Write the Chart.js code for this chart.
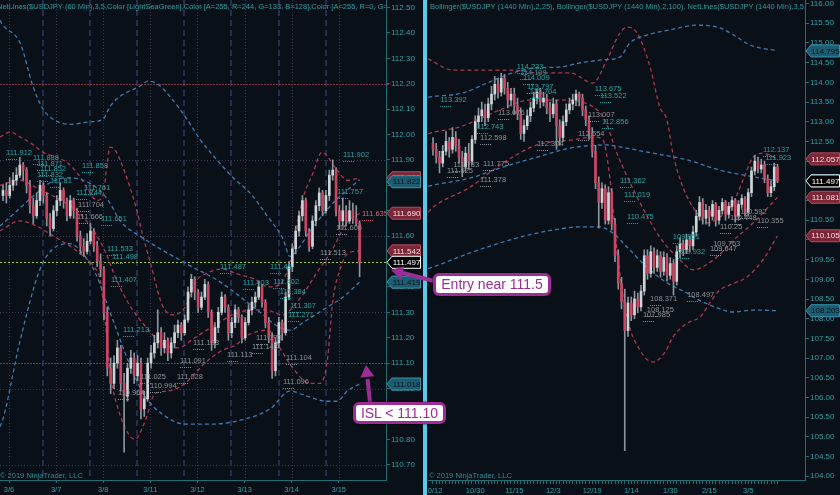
<!DOCTYPE html>
<html>
<head>
<meta charset="utf-8">
<script src="https://cdn.jsdelivr.net/npm/chart.js@4.4.1/dist/chart.umd.min.js"></script>
<style>
  html, body { margin:0; padding:0; background:#0a1018; width:840px; height:495px; overflow:hidden; }
  body { position:relative; font-family:"Liberation Sans", Arial, sans-serif; }
  #lw { position:absolute; left:0; top:0; width:422px; height:495px; }
  #rw { position:absolute; left:428px; top:0; width:412px; height:495px; }
  #sep { position:absolute; left:423px; top:0; width:4px; height:495px; background:#5cc8ec; }
  .callout { position:absolute; box-sizing:border-box; background:#fff; border:3px solid #9b2d95;
             border-radius:6px; color:#9b2d95; font:14px "Liberation Sans", Arial, sans-serif;
             text-align:center; white-space:nowrap; box-shadow:0 0 2px #000; }
  #entry { left:433px; top:273px; width:118px; height:23px; line-height:17px; }
  #isl { left:353px; top:402px; width:93px; height:22px; line-height:16px; }
  svg { position:absolute; left:0; top:0; }
</style>
</head>
<body>
<div id="lw"><canvas id="left" width="422" height="495"></canvas></div>
<div id="sep"></div>
<div id="rw"><canvas id="right" width="412" height="495"></canvas></div>
<svg width="840" height="495">
  <line x1="434" y1="281" x2="401" y2="272.5" stroke="#9b2d95" stroke-width="4"/>
  <polygon points="391,270 404.3,266.2 400.9,279.8" fill="#9b2d95"/>
  <line x1="370" y1="403" x2="367.6" y2="379" stroke="#9b2d95" stroke-width="4"/>
  <polygon points="366,365 374.3,376.2 360.3,377.6" fill="#9b2d95"/>
</svg>
<div class="callout" id="entry">Entry near 111.5</div>
<div class="callout" id="isl">ISL &lt; 111.10</div>

<script>
// ---------- USD/JPY 60-minute bars (left panel) ----------
const leftDays   = ['3/6','3/7','3/8','3/11','3/12','3/13','3/14','3/15'];
const leftDayIdx = [1.8, 15.8, 29.8, 43.8, 57.8, 71.8, 85.8, 99.8];
const leftSessIdx = [11.9, 25.9, 39.9, 53.9, 67.9, 81.9, 95.9];
const leftYTicks = [110.70,110.80,110.90,111.00,111.10,111.20,111.30,111.40,111.50,111.60,
                    111.70,111.80,111.90,112.00,112.10,112.20,112.30,112.40,112.50];
const leftGridLevels = [112.50, 111.90, 111.60, 111.30, 111.00, 110.70];
const leftRedLevels  = [112.20, 111.10];

const leftOpen = [111.76,111.78,111.76,111.80,111.82,111.84,111.88,111.86,111.80,111.72,
  111.68,111.74,111.80,111.76,111.67,111.63,111.70,111.74,111.78,111.74,
  111.68,111.74,111.70,111.60,111.56,111.54,111.58,111.62,111.56,111.50,
  111.47,111.30,111.08,111.02,111.10,111.16,111.02,110.97,111.08,111.12,
  111.05,111.10,110.92,110.96,111.10,111.14,111.18,111.22,111.16,111.19,
  111.14,111.18,111.22,111.25,111.22,111.27,111.38,111.43,111.38,111.32,
  111.36,111.41,111.30,111.18,111.24,111.30,111.36,111.32,111.22,111.26,
  111.31,111.28,111.20,111.26,111.31,111.34,111.36,111.40,111.34,111.26,
  111.20,111.07,111.18,111.26,111.22,111.36,111.48,111.55,111.62,111.68,
  111.74,111.62,111.56,111.66,111.72,111.77,111.70,111.76,111.84,111.86,
  111.70,111.66,111.70,111.66,111.70,111.67,111.65];
const leftHigh = [111.80,111.81,111.83,111.85,111.87,111.91,111.89,111.87,111.82,111.75,
  111.77,111.82,111.81,111.77,111.69,111.72,111.76,111.81,111.79,111.75,
  111.76,111.75,111.71,111.62,111.59,111.61,111.65,111.63,111.58,111.53,
  111.48,111.32,111.12,111.13,111.19,111.17,111.06,111.10,111.15,111.14,
  111.13,111.12,110.99,111.12,111.17,111.21,111.31,111.24,111.22,111.20,
  111.20,111.25,111.27,111.26,111.29,111.40,111.45,111.44,111.39,111.38,
  111.43,111.42,111.31,111.26,111.32,111.38,111.37,111.33,111.28,111.33,
  111.32,111.29,111.28,111.33,111.36,111.38,111.42,111.41,111.35,111.28,
  111.22,111.20,111.28,111.27,111.38,111.50,111.57,111.64,111.70,111.76,
  111.75,111.63,111.68,111.74,111.79,111.78,111.78,111.86,111.90,111.87,
  111.72,111.75,111.72,111.74,111.73,111.72,111.66];
const leftLow = [111.74,111.73,111.75,111.78,111.80,111.83,111.82,111.77,111.69,111.65,
  111.67,111.72,111.73,111.64,111.60,111.62,111.68,111.72,111.71,111.66,
  111.67,111.67,111.58,111.53,111.52,111.53,111.57,111.54,111.48,111.44,
  111.27,111.05,110.98,111.00,111.08,110.99,110.75,110.95,111.06,111.02,
  111.03,110.88,110.89,110.95,111.08,111.12,111.16,111.13,111.14,111.11,
  111.12,111.16,111.20,111.19,111.21,111.26,111.36,111.35,111.30,111.31,
  111.35,111.28,111.15,111.16,111.22,111.29,111.30,111.19,111.20,111.24,
  111.26,111.18,111.19,111.25,111.29,111.32,111.35,111.32,111.24,111.18,
  111.04,111.05,111.16,111.19,111.21,111.35,111.46,111.53,111.60,111.66,
  111.60,111.54,111.55,111.64,111.70,111.68,111.69,111.74,111.82,111.68,
  111.63,111.64,111.64,111.65,111.65,111.64,111.44];
const leftClose = [111.78,111.76,111.80,111.82,111.84,111.88,111.86,111.80,111.72,111.68,
  111.74,111.80,111.76,111.67,111.63,111.70,111.74,111.78,111.74,111.68,
  111.74,111.70,111.60,111.56,111.54,111.58,111.62,111.56,111.50,111.47,
  111.30,111.08,111.02,111.10,111.16,111.02,110.97,111.08,111.12,111.05,
  111.10,110.92,110.96,111.10,111.14,111.18,111.22,111.16,111.19,111.14,
  111.18,111.22,111.25,111.22,111.27,111.38,111.43,111.38,111.32,111.36,
  111.41,111.30,111.18,111.24,111.30,111.36,111.32,111.22,111.26,111.31,
  111.28,111.20,111.26,111.31,111.34,111.36,111.40,111.34,111.26,111.20,
  111.07,111.18,111.26,111.22,111.36,111.48,111.55,111.62,111.68,111.74,
  111.62,111.56,111.66,111.72,111.77,111.70,111.76,111.84,111.86,111.70,
  111.66,111.70,111.66,111.70,111.67,111.65,111.497];

// Bollinger(2,25) and Bollinger(2,100) on the hourly bars: [bar, price]
const leftRedUp = [[-0.9,111.99],[2.1,112.01],[5.1,111.99],[8.9,111.96],[11.9,111.93],[16.1,111.91],
  [19,111.89],[22,111.85],[25,111.79],[27.9,111.74],[29.7,111.76],[30.9,111.88],[31.8,111.95],
  [33.3,111.94],[34.8,111.90],[37.8,111.79],[39.8,111.70],[41.6,111.60],[43.7,111.50],[47.3,111.33],
  [50.2,111.29],[54.1,111.32],[57.1,111.42],[60,111.45],[65.1,111.47],[69.9,111.45],[74.9,111.43],
  [78.8,111.40],[82.3,111.41],[85.3,111.50],[89.2,111.75],[92.2,111.85],[94.8,111.93],[99.3,111.86],
  [102.3,111.82],[106,111.830]];
const leftRedMid = [[-0.9,111.80],[5,111.82],[10,111.79],[16,111.75],[22,111.70],[27,111.62],[30,111.55],
  [34,111.42],[38,111.32],[42,111.25],[47,111.18],[52,111.16],[57,111.20],[63,111.25],[70,111.30],
  [78,111.31],[83,111.29],[88,111.35],[93,111.45],[98,111.55],[102,111.65],[106,111.690]];
const leftRedLow = [[-0.9,111.62],[5,111.66],[10,111.64],[15,111.60],[20,111.56],[24,111.52],[27,111.48],
  [29,111.42],[30.5,111.25],[32,111.05],[34,110.93],[36.9,110.83],[39.2,110.80],[42.2,110.87],
  [45.2,110.98],[49,110.99],[54.1,111.02],[57.1,111.06],[60,111.10],[65.1,111.15],[69,111.17],
  [72.8,111.21],[78.8,111.23],[82.3,111.16],[86.2,111.08],[91.3,111.02],[94.2,111.02],[96.3,111.10],
  [98.1,111.35],[100.2,111.47],[102.3,111.53],[106,111.542]];
const leftBlueUp = [[-0.9,112.45],[0,112.43],[5.1,112.36],[8.9,112.19],[11.9,112.10],[14.9,112.06],
  [19.9,112.04],[25.9,112.05],[29.7,112.06],[31.8,112.11],[34.8,112.15],[40.7,112.19],[43.1,112.21],
  [45.8,112.20],[49.6,112.15],[54.7,112.06],[58.6,111.98],[63.6,111.90],[68.4,111.83],[73.4,111.77],
  [78.5,111.68],[83.2,111.59],[85.3,111.52],[88.3,111.56],[91.3,111.62],[98.1,111.73],[106,111.822]];
const leftBlueMid = [[-0.9,111.64],[0,111.65],[10.1,111.77],[14,111.81],[19,111.83],[23.8,111.82],
  [28.8,111.78],[31.8,111.73],[34.8,111.66],[40.7,111.60],[54.7,111.49],[64.5,111.42],[76.4,111.30],
  [82.3,111.24],[85.3,111.23],[89.2,111.26],[96.3,111.32],[101.1,111.36],[106,111.419]];
const leftBlueLow = [[-0.9,110.85],[0,110.88],[5.1,111.19],[11,111.47],[14.9,111.55],[19.9,111.57],
  [24.4,111.52],[27.3,111.46],[32.4,111.28],[37.2,111.11],[42.2,110.97],[47.3,110.90],[54.1,110.86],
  [62.1,110.86],[71.9,110.88],[79.4,110.92],[85.3,110.99],[90.4,110.97],[96.3,110.95],[99.3,110.95],
  [102.3,110.99],[106,111.018]];

// NetLines swing levels: [text, bar, price, tone]
const leftNotes = [
  ['111.912',0.9,111.927,'t'],['111.888',8.9,111.907,'t'],['111.871',10.1,111.884,'t'],
  ['111.852',11,111.864,'t'],['111.832',10.1,111.841,'t'],['111.81',14,111.817,'t'],
  ['111.858',23.5,111.876,'t'],['111.761',24.1,111.789,'t'],['111.744',21.7,111.770,'t'],
  ['111.704',22.3,111.722,'g'],['111.666',22,111.677,'g'],['111.651',29.1,111.667,'t'],
  ['111.533',30.9,111.549,'t'],['111.498',32.4,111.518,'t'],['111.407',32.1,111.427,'t'],
  ['111.213',35.7,111.230,'t'],['111.487',64.5,111.478,'t'],['111.403',71.3,111.415,'t'],
  ['111.49',79.4,111.478,'t'],['111.402',80.3,111.419,'t'],['111.384',82.3,111.380,'t'],
  ['111.307',85.3,111.325,'t'],['111.271',84.7,111.290,'t'],['111.902',101.1,111.919,'t'],
  ['111.757',99.3,111.774,'t'],['111.635',106.7,111.687,'p'],['111.606',99,111.632,'g'],
  ['111.513',94.2,111.533,'g'],['111.104',84.1,111.120,'g'],['111.096',83.2,111.025,'g'],
  ['111.091',52.6,111.108,'g'],['111.028',51.7,111.045,'g'],['110.994',43.7,111.010,'g'],
  ['111.025',40.7,111.045,'g'],['110.964',34.2,110.982,'g'],['111.193',56.5,111.180,'g'],
  ['111.143',74,111.163,'g'],['111.173',75.2,111.198,'g'],['111.113',66.6,111.132,'g']];

// ---------- USD/JPY daily bars (right panel) ----------
const rightDates   = ['10/12','10/30','11/15','12/3','12/19','1/14','1/30','2/15','3/5'];
const rightDateIdx = [0, 13, 25, 37, 49, 61, 73, 85, 97];
const rightYTicks = [104.00,104.50,105.00,105.50,106.00,106.50,107.00,107.50,108.00,108.50,109.00,
  109.50,110.00,110.50,111.00,111.50,112.00,112.50,113.00,113.50,114.00,114.50,115.00,115.50,116.00];

const rightOpen = [112.45,112.30,112.10,111.95,112.25,112.50,112.30,112.60,112.40,112.10,
  111.85,112.20,112.00,112.55,113.00,113.15,113.30,113.10,113.45,113.70,
  113.95,113.75,114.10,113.85,113.55,113.70,113.40,113.20,112.70,112.90,
  113.15,113.35,113.60,113.75,113.50,113.60,113.35,113.20,113.45,112.90,
  112.60,113.00,113.30,113.45,113.55,113.70,113.60,113.30,113.05,112.70,
  112.25,111.45,110.95,111.30,110.50,111.20,110.40,109.60,108.90,108.45,
  107.70,108.40,108.10,108.50,108.30,108.70,109.60,109.15,109.70,109.30,
  109.60,109.20,109.55,109.10,109.40,108.95,109.70,109.90,109.75,110.00,
  109.85,110.20,110.60,110.95,110.55,110.75,110.60,110.90,110.50,110.75,
  110.95,110.65,110.85,111.00,110.60,110.90,111.05,110.70,111.20,111.75,
  112.00,111.80,111.90,111.55,111.20,111.35,111.85];
const rightHigh = [112.60,112.45,112.25,112.40,112.75,112.60,112.85,112.75,112.55,112.25,
  112.35,112.45,112.65,113.15,113.35,113.50,113.45,113.60,113.90,114.15,
  114.10,114.23,114.20,114.00,113.85,113.85,113.60,113.35,113.05,113.30,
  113.50,113.75,113.82,113.85,113.75,113.70,113.50,113.60,113.55,113.05,
  113.15,113.45,113.60,113.70,113.80,113.75,113.70,113.40,113.15,112.85,
  112.40,111.60,111.45,111.40,111.35,111.30,110.55,109.75,109.05,108.75,
  108.55,108.55,108.70,108.65,108.85,109.75,109.75,109.85,109.80,109.75,
  109.70,109.70,109.65,109.55,109.50,109.85,110.05,110.00,110.15,110.10,
  110.35,110.75,111.10,111.05,110.90,110.85,111.00,110.95,110.85,111.05,
  111.00,110.95,111.10,111.05,111.00,111.15,111.10,111.30,111.85,112.14,
  112.10,112.05,112.00,111.65,111.50,111.95,111.92];
const rightLow = [112.15,111.95,111.70,111.85,112.15,112.10,112.20,112.25,111.95,111.60,
  111.75,111.80,111.90,112.45,112.85,113.00,112.90,113.00,113.30,113.55,
  113.60,113.65,113.70,113.35,113.40,113.20,113.05,112.55,112.50,112.80,
  113.00,113.25,113.45,113.35,113.40,113.20,113.00,113.10,112.30,112.40,
  112.50,112.90,113.20,113.30,113.40,113.40,113.15,112.90,112.55,112.10,
  111.30,110.30,110.80,110.40,110.40,110.25,109.45,108.75,108.25,104.65,
  107.55,107.95,108.00,108.15,108.20,108.60,109.00,109.05,109.15,109.20,
  109.05,109.10,108.95,109.00,108.60,108.85,109.55,109.60,109.65,109.70,
  109.75,110.10,110.50,110.40,110.40,110.35,110.50,110.35,110.40,110.65,
  110.50,110.55,110.75,110.45,110.50,110.80,110.60,110.60,111.10,111.65,
  111.70,111.70,111.45,111.10,111.10,111.25,111.45];
const rightClose = [112.30,112.10,111.95,112.25,112.50,112.30,112.60,112.40,112.10,111.85,
  112.20,112.00,112.55,113.00,113.15,113.30,113.10,113.45,113.70,113.95,
  113.75,114.10,113.85,113.55,113.70,113.40,113.20,112.70,112.90,113.15,
  113.35,113.60,113.75,113.50,113.60,113.35,113.20,113.45,112.90,112.60,
  113.00,113.30,113.45,113.55,113.70,113.60,113.30,113.05,112.70,112.25,
  111.45,110.95,111.30,110.50,111.20,110.40,109.60,108.90,108.45,107.70,
  108.40,108.10,108.50,108.30,108.70,109.60,109.15,109.70,109.30,109.60,
  109.20,109.55,109.10,109.40,108.95,109.70,109.90,109.75,110.00,109.85,
  110.20,110.60,110.95,110.55,110.75,110.60,110.90,110.50,110.75,110.95,
  110.65,110.85,111.00,110.60,110.90,111.05,110.70,111.20,111.75,112.00,
  111.80,111.90,111.55,111.20,111.35,111.85,111.497];

const rightRedUp = [[-1.5,114.60],[-0.9,114.57],[6.2,114.31],[16.6,114.31],[24.6,114.31],[32,114.24],
  [42.2,114.24],[49.2,113.98],[53.5,114.57],[57.5,115.25],[59.7,115.40],[62.8,115.25],[66.8,114.39],
  [69.8,113.37],[72,113.04],[73.8,112.20],[76.9,111.34],[81.2,110.68],[84.3,110.43],[88.3,110.58],
  [92.3,110.93],[95.4,111.52],[98.5,112.10],[101.5,112.20],[106,112.057]];
const rightRedMid = [[-1.5,112.69],[-0.9,112.71],[8.3,112.87],[20.6,113.30],[29.8,113.55],[39.1,113.55],
  [48.3,113.42],[52.9,113.04],[56.6,112.20],[62.8,111.09],[69.8,110.07],[76,109.49],[80,109.24],
  [86.2,109.49],[93.5,110.07],[98.5,110.43],[106,111.081]];
const rightRedLow = [[-1.5,110.70],[0,110.83],[11.4,111.34],[21.5,111.95],[32,112.41],[42.2,112.53],
  [49.8,112.61],[52.3,112.53],[54.5,111.52],[56.6,109.74],[59.7,108.04],[63.7,107.20],[67.7,106.90],
  [71.4,107.15],[73.8,107.53],[78.2,107.89],[82.2,108.04],[85.2,108.40],[88.3,108.73],[91.4,108.86],
  [96.6,109.06],[101.5,109.49],[106,110.105]];
const rightBlueUp = [[-1.5,113.62],[-0.9,113.63],[9.2,113.73],[16.6,113.98],[24.6,114.24],[30.8,114.36],
  [39.1,114.39],[45.2,114.49],[52.3,114.57],[57.5,114.64],[60.6,115.00],[65.8,115.20],[72.9,115.33],
  [81.2,115.45],[88.3,115.38],[93.5,115.15],[97.5,114.95],[106,114.795]];
const rightBlueMid = [[-1.5,111.36],[0,111.39],[11.4,111.57],[21.5,111.85],[32,112.10],[42.2,112.33],
  [53.5,112.41],[57.5,112.36],[67.7,112.20],[78.2,112.03],[88.3,111.77],[98.5,111.60],[106,111.499]];
const rightBlueLow = [[-1.5,109.27],[0,109.31],[11.4,109.67],[26.8,110.07],[36.9,110.25],[45.2,110.33],
  [51.4,110.33],[55.4,110.17],[59.7,109.82],[65.8,109.31],[72,108.91],[78.2,108.65],[80,108.55],
  [85.2,108.35],[92.3,108.17],[98.5,108.22],[106,108.203]];

const rightNotes = [
  ['114.233',25.8,114.39,'t'],['114.109',26.8,114.24,'t'],['114.009',27.7,114.11,'t'],
  ['113.797',28.9,113.88,'t'],['113.704',29.8,113.75,'t'],['113.392',2.2,113.55,'t'],
  ['113.675',49.8,113.83,'t'],['113.522',51.4,113.65,'t'],['113.007',47.7,113.17,'g'],
  ['112.856',52,112.99,'t'],['112.743',13.5,112.87,'t'],['112.598',14.5,112.59,'g'],
  ['113.076',20,113.22,'g'],['112.304',32,112.43,'g'],['112.554',44.6,112.69,'g'],
  ['111.783',6.2,111.90,'g'],['111.625',4.3,111.75,'g'],['111.775',15.4,111.93,'g'],
  ['111.378',14.5,111.52,'g'],['111.362',57.5,111.49,'t'],['111.019',58.8,111.14,'t'],
  ['110.475',59.7,110.58,'t'],['109.951',73.8,110.07,'t'],['109.932',75.4,109.69,'t'],
  ['109.763',86.2,109.89,'g'],['109.647',85.2,109.77,'g'],['110.592',94.5,110.71,'g'],
  ['110.355',99.7,110.48,'g'],['110.25',88.3,110.33,'g'],['110.448',91.4,110.56,'g'],
  ['112.137',101.5,112.28,'t'],['111.923',102.2,112.08,'t'],['108.497',78.2,108.60,'g'],
  ['108.371',66.8,108.50,'g'],['108.125',65.8,108.22,'g'],['107.985',64.6,108.09,'g']];

// ---------- styling ----------
const FONT = '"Liberation Sans", Arial, sans-serif';
const AXIS = '#1f6f73';
const TICK = '#2ea0a3';
const RED = '#ad3650';
const BLUE = '#3a7cae';
const toneColor = { t:'#27a3a1', g:'#8c9196', p:'#df5f6e' };
const last = arr => arr[arr.length - 1][1];

function candleSets(O, H, L, C) {
  const up = C.map((c, i) => c >= O[i]);
  return [
    { type:'bar', data:O.map((o, i) => ({ x:i, y:[L[i], H[i]] })), backgroundColor:'#8d949c',
      barThickness:1, grouped:false, order:1 },
    { type:'bar', data:O.map((o, i) => ({ x:i, y:[o, C[i]] })),
      backgroundColor:up.map(u => u ? '#cdd5d7' : '#cc4563'), borderWidth:0,
      barThickness:2, minBarLength:1, grouped:false, order:0 }
  ];
}
function band(points, color) {
  return { type:'line', data:points.map(p => ({ x:p[0], y:p[1] })), borderColor:color, borderWidth:1.3,
           borderDash:[4, 3], pointRadius:0, fill:false, cubicInterpolationMode:'monotone', order:2 };
}
function drawBadge(ctx, x0, y, text, kind) {
  const fill = { r:'#7a2737', b:'#1d5d71', k:'#000000' }[kind];
  const edge = { r:'#b24b5e', b:'#3592ab', k:'#ffffff' }[kind];
  const ink  = { r:'#f2dede', b:'#08161e', k:'#ffffff' }[kind];
  ctx.beginPath();
  ctx.moveTo(x0 + 1, y); ctx.lineTo(x0 + 6, y - 6); ctx.lineTo(x0 + 34.5, y - 6);
  ctx.lineTo(x0 + 34.5, y + 6); ctx.lineTo(x0 + 6, y + 6); ctx.closePath();
  ctx.fillStyle = fill; ctx.fill();
  ctx.lineWidth = 1; ctx.strokeStyle = edge; ctx.stroke();
  ctx.fillStyle = ink; ctx.font = '8px ' + FONT; ctx.textAlign = 'center'; ctx.textBaseline = 'middle';
  ctx.fillText(text, x0 + 20.5, y + 0.5);
}
function decorations(cfg) {
  return {
    id:'decor',
    beforeDatasetsDraw(chart) {
      const { ctx, chartArea:a, scales:{ x, y } } = chart;
      ctx.save();
      ctx.lineWidth = 1;
      (cfg.gridLevels || []).forEach(v => {
        const py = Math.round(y.getPixelForValue(v)) + 0.5;
        ctx.strokeStyle = '#3b3753'; ctx.setLineDash([1, 2]);
        ctx.beginPath(); ctx.moveTo(a.left, py); ctx.lineTo(a.right, py); ctx.stroke();
      });
      (cfg.dayIdx || []).forEach(v => {
        const px = Math.round(x.getPixelForValue(v)) + 0.5;
        ctx.strokeStyle = '#3b3753'; ctx.setLineDash([1, 2]);
        ctx.beginPath(); ctx.moveTo(px, a.top); ctx.lineTo(px, a.bottom); ctx.stroke();
      });
      (cfg.sessIdx || []).forEach(v => {
        const px = Math.round(x.getPixelForValue(v));
        ctx.strokeStyle = '#272d4c'; ctx.lineWidth = 2; ctx.setLineDash([6, 4]);
        ctx.beginPath(); ctx.moveTo(px, a.top); ctx.lineTo(px, a.bottom); ctx.stroke();
      });
      ctx.lineWidth = 1;
      (cfg.redLevels || []).forEach(v => {
        const py = Math.round(y.getPixelForValue(v)) + 0.5;
        ctx.strokeStyle = '#7d3444'; ctx.setLineDash([2, 1]);
        ctx.beginPath(); ctx.moveTo(a.left, py); ctx.lineTo(a.right + 4, py); ctx.stroke();
      });
      if (cfg.priceLine) {
        const py = Math.round(y.getPixelForValue(cfg.priceLine)) + 0.5;
        ctx.strokeStyle = '#a6cf2a'; ctx.setLineDash([2, 2]);
        ctx.beginPath(); ctx.moveTo(a.left, py); ctx.lineTo(a.right, py); ctx.stroke();
      }
      ctx.restore();
    },
    afterDatasetsDraw(chart) {
      const { ctx, chartArea:a, scales:{ x, y } } = chart;
      ctx.save();
      ctx.beginPath(); ctx.rect(a.left, a.top, a.right - a.left, a.bottom - a.top); ctx.clip();
      ctx.font = '7.5px ' + FONT; ctx.textAlign = 'left'; ctx.textBaseline = 'middle';
      cfg.notes.forEach(([t, i, p, tone]) => {
        const px = x.getPixelForValue(i), py = y.getPixelForValue(p);
        ctx.fillStyle = toneColor[tone];
        ctx.fillText(t, px, py);
        ctx.strokeStyle = toneColor[tone]; ctx.setLineDash([1, 1]); ctx.lineWidth = 1;
        ctx.beginPath(); ctx.moveTo(px, Math.round(py + 6) + 0.5); ctx.lineTo(px + 12, Math.round(py + 6) + 0.5); ctx.stroke();
      });
      ctx.font = '7.5px ' + FONT; ctx.fillStyle = '#2a9a9c'; ctx.textBaseline = 'middle';
      ctx.fillText(cfg.header, cfg.headerX, 7);
      ctx.fillStyle = '#2a8c90';
      ctx.fillText('\u00a9 2019 NinjaTrader, LLC', cfg.footerX, 475.5);
      ctx.restore();
    },
    afterDraw(chart) {
      const { ctx, chartArea:a, scales:{ y } } = chart;
      ctx.save();
      cfg.badges.forEach(b => {
        drawBadge(ctx, a.right, y.getPixelForValue(b.v) + (b.dy || 0), b.v.toFixed(3), b.k);
      });
      ctx.restore();
    }
  };
}
function makeChart(id, o) {
  return new Chart(document.getElementById(id), {
    type:'bar',
    data:{ datasets:[...candleSets(o.O, o.H, o.L, o.C), ...o.bands] },
    options:{
      responsive:false, animation:false, events:[],
      layout:{ padding:0 },
      plugins:{ legend:{ display:false }, tooltip:{ enabled:false } },
      scales:{
        x:{ type:'linear', min:o.xMin, max:o.xMax, offset:false,
            grid:{ display:true, drawOnChartArea:false, drawTicks:true, tickLength:o.xTickLen, color:AXIS, offset:false },
            border:{ display:true, color:AXIS },
            ticks:{ color:TICK, font:{ family:FONT, size:7.5 }, autoSkip:false, maxRotation:0, padding:2,
                    callback:o.xLabel },
            afterBuildTicks:s => { s.ticks = o.xTicks.map(v => ({ value:v })); },
            afterFit:s => { s.height = 15; s.paddingLeft = 0; s.paddingRight = 0; } },
        y:{ type:'linear', position:'right', min:o.yMin, max:o.yMax, beginAtZero:false,
            grid:{ display:true, drawOnChartArea:false, drawTicks:true, tickLength:4, color:AXIS },
            border:{ display:true, color:AXIS },
            ticks:{ color:TICK, font:{ family:FONT, size:8 }, padding:1, callback:v => v.toFixed(2) },
            afterBuildTicks:s => { s.ticks = o.yTicks.map(v => ({ value:v })); },
            afterFit:s => { s.width = o.yWidth; s.paddingTop = 0; s.paddingBottom = 0; } }
      }
    },
    plugins:[decorations(o.decor)]
  });
}

// left: hourly chart with the entry setup
makeChart('left', {
  O:leftOpen, H:leftHigh, L:leftLow, C:leftClose,
  bands:[band(leftBlueUp, BLUE), band(leftBlueMid, BLUE), band(leftBlueLow, BLUE),
         band(leftRedUp, RED), band(leftRedMid, RED), band(leftRedLow, RED)],
  xMin:-0.892, xMax:113.85, xTicks:leftDayIdx, xTickLen:3,
  xLabel:(v, i) => leftDays[i],
  yMin:110.640, yMax:112.5295, yTicks:leftYTicks, yWidth:36,
  decor:{
    gridLevels:leftGridLevels, redLevels:leftRedLevels, dayIdx:leftDayIdx, sessIdx:leftSessIdx,
    priceLine:leftClose[leftClose.length - 1], notes:leftNotes,
    header:'NetLines($USDJPY (60 Min),3,5,Color [LightSeaGreen],Color [A=255, R=244, G=133, B=128],Color [A=255, R=0, G=131,',
    headerX:-3, footerX:0,
    badges:[
      { v:last(leftRedUp), k:'r' }, { v:last(leftBlueUp), k:'b', dy:2 },
      { v:last(leftRedMid), k:'r' }, { v:last(leftRedLow), k:'r' },
      { v:last(leftBlueMid), k:'b' }, { v:last(leftBlueLow), k:'b' },
      { v:leftClose[leftClose.length - 1], k:'k' }
    ]
  }
});

// right: daily chart for context
const rightBarIdx = rightClose.map((c, i) => i);
makeChart('right', {
  O:rightOpen, H:rightHigh, L:rightLow, C:rightClose,
  bands:[band(rightBlueUp, BLUE), band(rightBlueMid, BLUE), band(rightBlueLow, BLUE),
         band(rightRedUp, RED), band(rightRedMid, RED), band(rightRedLow, RED)],
  xMin:-1.538, xMax:114.46, xTicks:rightBarIdx, xTickLen:4,
  xLabel:v => { const k = rightDateIdx.indexOf(v); return k >= 0 ? rightDates[k] : ''; },
  yMin:103.906, yMax:116.089, yTicks:rightYTicks, yWidth:35,
  decor:{
    notes:rightNotes,
    header:'Bollinger($USDJPY (1440 Min),2,25), Bollinger($USDJPY (1440 Min),2,100), NetLines($USDJPY (1440 Min),3,5,Color',
    headerX:2, footerX:1,
    badges:[
      { v:last(rightBlueUp), k:'b' }, { v:last(rightRedUp), k:'r' },
      { v:last(rightBlueMid), k:'b' }, { v:rightClose[rightClose.length - 1], k:'k' },
      { v:last(rightRedMid), k:'r' }, { v:last(rightRedLow), k:'r' }, { v:last(rightBlueLow), k:'b' }
    ]
  }
});
</script>
</body>
</html>
